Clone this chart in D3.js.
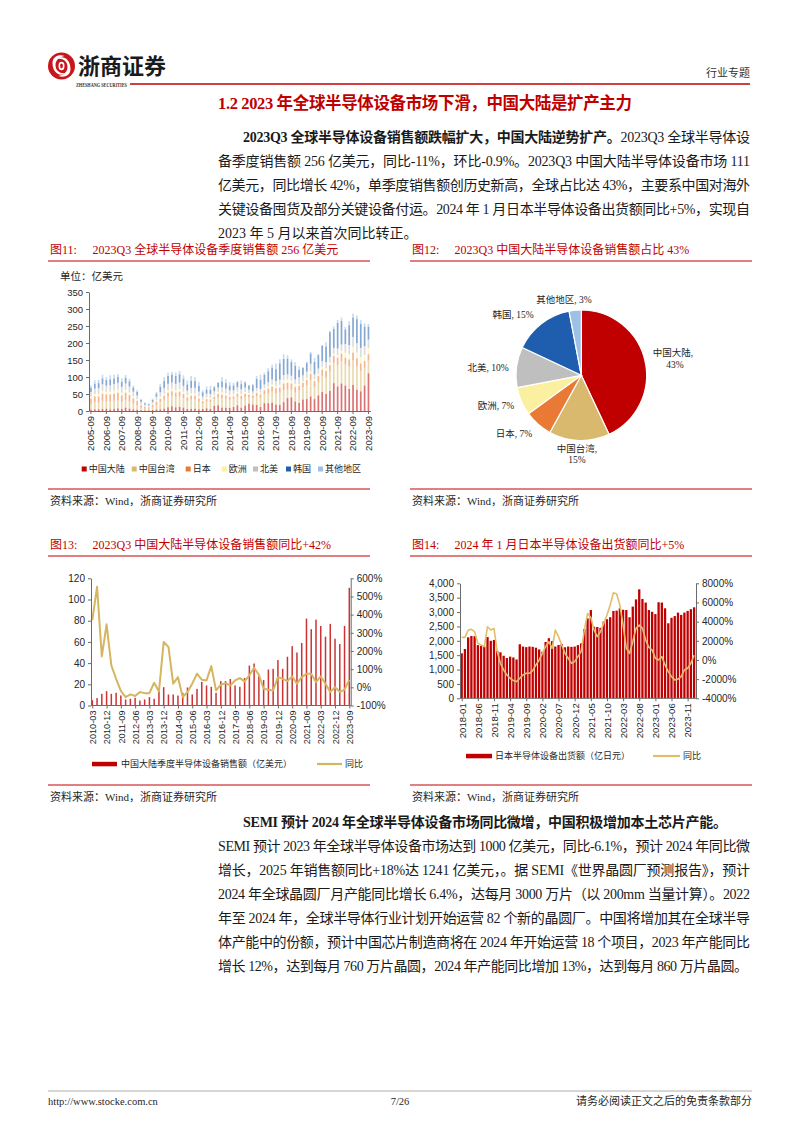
<!DOCTYPE html>
<html><head><meta charset="utf-8">
<script src="https://cdn.jsdelivr.net/npm/d3@7"></script>
<style>body{margin:0;background:#fff}svg{display:block}</style>
</head><body>
<svg id="page" width="802" height="1133"></svg>
<script>
// ================= DATA =================
// Figure 11: global quarterly semiconductor equipment sales by region (亿美元), 2005-09 .. 2023-09
const regions11 = ["中国大陆","中国台湾","日本","欧洲","北美","韩国","其他地区"];
const colors11 = ["#C00000","#D8B96E","#E97A36","#FBF0A0","#BFBFBF","#1F5EAF","#9DC0E5"];
const cn11 = [4,5,5,6,7,5,6,8,6,10,7,5,4,2,2,2,3,5, 5,7,11,14,11,12,10,6,6,7,5,6, 8,6,15,17,10,10,9,12,17,10,16,22, 19,18,12,23,23,25,19,18, 26,38,40,28, 24,34,35,43, 35,46,56,50, 59,82,72,81, 75,65,77,63, 58,75,111];
const tw11 = [17,20,20,24,22,23,24,24,21,23,21,17,14,8,5,5,8,12, 22,27,31,31,31,32,28,24,28,27,23,16, 20,21,20,24,28,26,24,23,25,25,25,18, 19,25,26,27,30,33,34,36, 35,25,23,26, 37,36,41,49, 37,40,47,48, 57,60,64,66, 62,66,72,70, 60,52,38];
const jp11 = [15,18,18,21,20,21,21,22,19,21,19,15,12,7,5,4,7,11, 9,11,12,13,12,13,12,10,11,11,9,7, 7,7,7,9,10,9,9,8,9,9,9,8, 8,10,11,11,13,14,14,15, 20,20,18,17, 13,13,15,17, 16,17,19,20, 19,20,21,22, 20,21,23,22, 22,20,18];
const eu11 = [6,7,7,9,8,8,9,9,8,8,8,6,5,3,2,2,3,4, 6,7,8,8,8,8,7,6,7,7,6,4, 5,5,5,6,7,7,6,6,6,6,6,5, 4,5,5,6,6,7,7,8, 10,10,9,9, 5,5,6,7, 6,7,8,8, 7,7,8,8, 15,16,17,17, 19,18,18];
const na11 = [14,16,17,19,18,19,19,20,17,19,17,14,11,7,5,4,6,10, 13,16,18,18,18,19,17,14,16,16,14,10, 11,11,11,13,15,14,13,12,13,14,13,10, 8,10,11,11,13,14,14,15, 15,15,14,13, 20,17,19,23, 14,15,17,18, 17,17,19,19, 25,26,29,28, 27,26,25];
const kr11 = [12,14,15,17,16,17,17,17,15,17,15,12,10,6,4,3,6,9, 16,20,23,23,23,24,21,18,21,20,17,12, 12,13,12,14,17,16,14,14,15,15,15,12, 18,26,27,28,32,34,35,48, 47,46,40,40, 22,22,25,30, 36,39,45,46, 73,55,75,69, 43,58,57,70, 70,57,38];
const ot11 = [7,10,10,11,9,12,11,9,10,8,8,6,6,3,2,2,3,5, 9,12,10,8,10,10,10,12,14,12,11,6, 9,11,3,2,13,11,10,8,3,11,4,2, 4,9,15,7,9,9,17,12, 14,10,8,11, 10,2,5,5, 12,4,2,12, 4,8,9,10, 7,12,12,11, 12,10,8];
const xLabels11 = ["2005-09","2006-09","2007-09","2008-09","2009-09","2010-09","2011-09","2012-09","2013-09","2014-09","2015-09","2016-09","2017-09","2018-09","2019-09","2020-09","2021-09","2022-09","2023-09"];
const yTicks11 = [0,50,100,150,200,250,300,350];

// Figure 12: 2023Q3 share by region
const pieLabels = ["中国大陆","中国台湾","日本","欧洲","北美","韩国","其他地区"];
const pieValues = [43,15,7,7,10,15,3];
const pieColors = ["#C00000","#D8B96E","#E97A36","#FBF0A0","#BFBFBF","#1F5EAF","#9DC0E5"];

// Figure 13: China mainland quarterly sales (亿美元) and YoY (%), 2010-03 .. 2023-09
const cn13 = [5,7,11,13.5, 11,12,9.5,5.7, 6.3,7.2,4.7,5.7, 7.9,6.3,14.5,17.3, 10.4,10.4,9.4,12, 17,10.4,15.7,22.3, 18.9,17.6,12,23, 23,25,18.9,17.6, 26,37.7,39.6,27.7, 24,34,34.6,42.8, 34.6,46,56,50, 59,82,72,81, 75,65,77,63, 58,75,111];
const yoy13 = [370,553,170,347, 121,47,-20,-54, -39,-48,-26,-32, -32,25,-23,250, 222,20,56,-54, -26,20,75,42, 38,117,-17,14, 23,10,38,51, 33,66,108,69, -8,-13,-17,56, 47,34,60,20, 56,75,75,29, 60,20,-26,1, -26,-13,42];
const xLabels13 = ["2010-03","2010-12","2011-09","2012-06","2013-03","2013-12","2014-09","2015-06","2016-03","2016-12","2017-09","2018-06","2019-03","2019-12","2020-09","2021-06","2022-03","2022-12","2023-09"];
const yTicks13L = [0,20,40,60,80,100,120];
const yTicks13R = [-100,0,100,200,300,400,500,600];

// Figure 14: Japan monthly semiconductor equipment shipments (亿日元) and YoY, 2018-01 .. 2024-01
const jp14 = [1565,1716,2120,2168,2160,1850,1820,1800,2130,2000,2030,1650,
  1600,1480,1400,1450,1420,1350,1880,1800,1780,1800,1790,1760,
  1700,1620,1960,2090,1990,1800,1855,1890,1775,1800,1790,1800,
  1850,1910,2410,2780,3070,2490,2480,2450,2670,2750,2820,3040,
  3050,3130,3080,3070,2820,3190,3440,3790,3455,3330,3070,3010,
  2930,3340,3330,3130,2610,2800,2860,2980,2900,2980,3040,3100,
  3165];
const yoy14 = [2361,2361,3125,3194,2951,1736,1562,1389,3472,3125,3300,868,
  -347,-1042,-1560,-1910,-2150,-2257,-1910,-1560,-1390,-1390,-1110,-520,
  0,694,1389,1910,1215,3125,2430,1562,694,174,-347,-174,
  347,868,3125,4861,4444,3125,2430,2950,3820,4690,5730,7010,
  6875,5730,3650,1215,694,1910,3300,3650,3300,2080,1320,1040,
  174,0,347,-520,-1215,-1736,-2083,-2000,-1736,-1042,-868,-347,
  500];
const xLabels14 = ["2018-01","2018-06","2018-11","2019-04","2019-09","2020-02","2020-07","2020-12","2021-05","2021-10","2022-03","2022-08","2023-01","2023-06","2023-11"];
const yTicks14L = [0,500,1000,1500,2000,2500,3000,3500,4000];
const yTicks14R = [-4000,-2000,0,2000,4000,6000,8000];

// ================= HELPERS =================
const SERIF = "'Liberation Serif','Noto Sans CJK SC',serif";
const SANS = "'Liberation Sans','Noto Sans CJK SC',sans-serif";
const CJK = "'Noto Sans CJK SC','Liberation Sans',sans-serif";
const RED = "#C00000";
const svg = d3.select("#page");
svg.append("rect").attr("width",802).attr("height",1133).attr("fill","#fff");

function periods(startY, startM, stepM, n){
  const out=[]; let y=startY, m=startM;
  for(let i=0;i<n;i++){ out.push(y+"-"+String(m).padStart(2,"0")); m+=stepM; while(m>12){m-=12;y++;} }
  return out;
}
function txt(x,y,s,opt={}){
  const t = svg.append("text").attr("x",x).attr("y",y).text(s)
    .attr("font-family",opt.ff||SERIF).attr("font-size",opt.fs||12)
    .attr("fill",opt.fill||"#1a1a1a").attr("text-anchor",opt.anchor||"start")
    .attr("dy",opt.dy||"0.35em");
  if(opt.fw) t.attr("font-weight",opt.fw);
  if(opt.w) t.attr("textLength",opt.w).attr("lengthAdjust",opt.la||"spacing");
  return t;
}
function line(g,x1,y1,x2,y2,c,w){ g.append("line").attr("x1",x1).attr("y1",y1).attr("x2",x2).attr("y2",y2).attr("stroke",c).attr("stroke-width",w); }
function styleAxis(a, fs){
  a.attr("font-family",SANS).attr("font-size",fs);
  a.select(".domain").attr("stroke","#6b6b6b");
  a.selectAll(".tick line").attr("stroke","#6b6b6b");
  a.selectAll(".tick text").attr("fill","#262626");
}
function rotateX(a){
  a.selectAll(".tick text").attr("transform","rotate(-90)").attr("text-anchor","end").attr("x",-5).attr("y",0).attr("dy","0.35em");
}

// ================= HEADER =================
const logo = svg.append("g").attr("transform","translate(61.5,66)");
logo.append("circle").attr("r",13.5).attr("fill","#C8161D");
logo.append("path").attr("d","M-9,-3 C-9,-10 -2,-12 3,-10 C-2,-9 -6,-6 -6,-1 C-6,5 -1,8 4,7 C0,11 -9,8 -9,-3 Z").attr("fill","#fff");
logo.append("path").attr("d","M9,3 C9,10 2,12 -3,10 C2,9 6,6 6,1 C6,-5 1,-8 -4,-7 C0,-11 9,-8 9,3 Z").attr("fill","#fff");
logo.append("ellipse").attr("rx",3).attr("ry",4.2).attr("fill","#fff");
logo.append("ellipse").attr("rx",1.4).attr("ry",2.4).attr("fill","#C8161D");
txt(78,66,"浙商证券",{ff:CJK,fs:22,fw:"bold",fill:"#1a1a1a"});
txt(76,85,"ZHESHANG SECURITIES",{ff:SERIF,fs:5.2,fw:"bold",fill:"#333",w:51,la:"spacingAndGlyphs"});
line(svg,130,84,750,84,RED,1.6);
txt(750,73,"行业专题",{ff:CJK,fs:11,anchor:"end",fill:"#333"});

// Title
txt(218,103,"1.2 2023 年全球半导体设备市场下滑，中国大陆是扩产主力",{ff:SERIF,fs:16.5,fw:"bold",fill:RED,w:414});

// Paragraph helper
function para(lines, y0){
  lines.forEach((L,i)=>{
    const t = svg.append("text").attr("x",L.x).attr("y",y0+i*24).attr("dy","0.35em")
      .attr("font-family",SERIF).attr("font-size",14).attr("fill","#1a1a1a");
    L.segs.forEach(s=>{ const ts=t.append("tspan").text(s[0]); if(s[1]) ts.attr("font-weight","bold"); });
    if(L.w) t.attr("textLength",L.w).attr("lengthAdjust","spacing");
  });
}
para([
  {x:243,w:507,segs:[["2023Q3 全球半导体设备销售额跌幅扩大，中国大陆逆势扩产。",1],["2023Q3 全球半导体设",0]]},
  {x:218,w:532,segs:[["备季度销售额 256 亿美元，同比-11%，环比-0.9%。2023Q3 中国大陆半导体设备市场 111",0]]},
  {x:218,w:532,segs:[["亿美元，同比增长 42%，单季度销售额创历史新高，全球占比达 43%，主要系中国对海外",0]]},
  {x:218,w:532,segs:[["关键设备囤货及部分关键设备付运。2024 年 1 月日本半导体设备出货额同比+5%，实现自",0]]},
  {x:218,w:0,segs:[["2023 年 5 月以来首次同比转正。",0]]}
],137);

// Figure titles
function figTitle(x, y, num, title, lineEnd){
  txt(x,y,num,{ff:SERIF,fs:12,fill:RED});
  txt(x+42.5,y,title,{ff:SERIF,fs:12,fill:RED});
  line(svg,x-2,y+11,lineEnd,y+11,RED,1.2);
}
figTitle(50,250,"图11:","2023Q3 全球半导体设备季度销售额 256 亿美元",370);
figTitle(412,250,"图12:","2023Q3 中国大陆半导体设备销售额占比 43%",752);
figTitle(50,545,"图13:","2023Q3 中国大陆半导体设备销售额同比+42%",370);
figTitle(412,545,"图14:","2024 年 1 月日本半导体设备出货额同比+5%",752);

function source(x, y, lineEnd){
  line(svg,x-2,y-12,lineEnd,y-12,RED,1);
  txt(x,y,"资料来源：Wind，浙商证券研究所",{ff:SERIF,fs:11,fill:"#262626"});
}
source(50,501,370); source(412,501,752);
source(50,797,370); source(412,797,752);

// ================= FIGURE 11 =================
const g11 = svg.append("g");
txt(60,276,"单位：亿美元",{ff:CJK,fs:10.5,fill:"#262626"});
const quarters11 = periods(2005,9,3,cn11.length);
const x11 = d3.scaleBand().domain(quarters11).range([89,370.4]);
const y11 = d3.scaleLinear().domain([0,350]).range([411,292]);
const rows11 = quarters11.map((q,i)=>({q,"中国大陆":cn11[i],"中国台湾":tw11[i],"日本":jp11[i],"欧洲":eu11[i],"北美":na11[i],"韩国":kr11[i],"其他地区":ot11[i]}));
const stacked = d3.stack().keys(regions11)(rows11);
g11.selectAll("g.layer").data(stacked).join("g").attr("class","layer")
  .attr("fill",(d,i)=>colors11[i]).attr("fill-opacity",0.55)
  .selectAll("rect").data(d=>d).join("rect")
  .attr("x",d=>x11(d.data.q)+x11.bandwidth()/2-0.85).attr("width",1.7)
  .attr("y",d=>y11(d[1])).attr("height",d=>Math.max(0,y11(d[0])-y11(d[1])));
const a11y = g11.append("g").attr("transform","translate(89,0)")
  .call(d3.axisLeft(y11).tickValues(yTicks11).tickSize(3).tickSizeOuter(0));
styleAxis(a11y,9.5);
const a11x = g11.append("g").attr("transform","translate(0,411)")
  .call(d3.axisBottom(x11).tickValues(xLabels11).tickSize(3).tickSizeOuter(0));
styleAxis(a11x,9.5); rotateX(a11x);
// legend
const lg11x = [81.7,131.7,185.7,221.7,253,286,318];
regions11.forEach((r,i)=>{
  g11.append("rect").attr("x",lg11x[i]).attr("y",466.5).attr("width",5).attr("height",5).attr("fill",colors11[i]);
  g11.append("text").attr("x",lg11x[i]+7).attr("y",469).attr("dy","0.35em").text(r)
    .attr("font-family",CJK).attr("font-size",9).attr("fill","#262626");
});

// ================= FIGURE 12 (pie) =================
const g12 = svg.append("g").attr("transform","translate(581.3,375.3)");
const pie = d3.pie().sort(null).value(d=>d)(pieValues);
const arc = d3.arc().innerRadius(0).outerRadius(65.3);
g12.selectAll("path").data(pie).join("path").attr("d",arc)
  .attr("fill",(d,i)=>pieColors[i]).attr("stroke","#fff").attr("stroke-width",1.2);
const pieLabelPos = [[673,353,675,365],[577,449,577,460],[514,434],[496,406],[488,368],[513,315],[564,300]];
pieLabels.forEach((l,i)=>{
  const p = pieLabelPos[i];
  if(p.length===4){
    txt(p[0],p[1],l+",",{ff:SERIF,fs:9.5,anchor:"middle",fill:"#262626"});
    txt(p[2],p[3],pieValues[i]+"%",{ff:SERIF,fs:9.5,anchor:"middle",fill:"#262626"});
  } else {
    txt(p[0],p[1],l+", "+pieValues[i]+"%",{ff:SERIF,fs:9.5,anchor:"middle",fill:"#262626"});
  }
});

// ================= FIGURE 13 =================
const g13 = svg.append("g");
const quarters13 = periods(2010,3,3,cn13.length);
const x13 = d3.scalePoint().domain(quarters13).range([92.3,349.3]);
const y13L = d3.scaleLinear().domain([0,120]).range([705.5,578.3]);
const y13R = d3.scaleLinear().domain([-100,600]).range([705.5,578.3]);
g13.selectAll("rect.bar").data(cn13).join("rect").attr("class","bar")
  .attr("x",(d,i)=>x13(quarters13[i])-0.75).attr("width",1.5)
  .attr("y",d=>y13L(d)).attr("height",d=>y13L(0)-y13L(d))
  .attr("fill","#C00000").attr("fill-opacity",0.8);
g13.append("path").datum(yoy13)
  .attr("d",d3.line().x((d,i)=>x13(quarters13[i])).y(d=>y13R(d)))
  .attr("fill","none").attr("stroke","#D4B560").attr("stroke-width",2).attr("stroke-linejoin","round");
const a13l = g13.append("g").attr("transform","translate(91,0)")
  .call(d3.axisLeft(y13L).tickValues(yTicks13L).tickSize(3).tickSizeOuter(0));
styleAxis(a13l,10);
const a13r = g13.append("g").attr("transform","translate(350.7,0)")
  .call(d3.axisRight(y13R).tickValues(yTicks13R).tickSize(3).tickSizeOuter(0).tickFormat(d=>d+"%"));
styleAxis(a13r,10);
const a13x = g13.append("g").attr("transform","translate(0,705.5)")
  .call(d3.axisBottom(x13).tickValues(xLabels13).tickSize(3).tickSizeOuter(0));
styleAxis(a13x,9.2); rotateX(a13x);
a13x.select(".domain").attr("d","M91,0H350.7");
// legend
g13.append("rect").attr("x",92).attr("y",761.8).attr("width",25).attr("height",4.5).attr("fill","#C00000");
g13.append("text").attr("x",121).attr("y",764).attr("dy","0.35em").text("中国大陆季度半导体设备销售额（亿美元）")
  .attr("font-family",CJK).attr("font-size",9).attr("fill","#262626");
line(g13,317,764,342,764,"#D4B560",2.2);
g13.append("text").attr("x",345).attr("y",764).attr("dy","0.35em").text("同比")
  .attr("font-family",CJK).attr("font-size",9).attr("fill","#262626");

// ================= FIGURE 14 =================
const g14 = svg.append("g");
const months14 = periods(2018,1,1,jp14.length);
const x14 = d3.scalePoint().domain(months14).range([461.7,694.1]);
const y14L = d3.scaleLinear().domain([0,4000]).range([698.3,583.3]);
const y14R = d3.scaleLinear().domain([-4000,8000]).range([698.3,583.3]);
g14.selectAll("rect.bar").data(jp14).join("rect").attr("class","bar")
  .attr("x",(d,i)=>x14(months14[i])-1.15).attr("width",2.3)
  .attr("y",d=>y14L(d)).attr("height",d=>y14L(0)-y14L(d))
  .attr("fill","#C00000");
g14.append("path").datum(yoy14)
  .attr("d",d3.line().x((d,i)=>x14(months14[i])).y(d=>y14R(d)))
  .attr("fill","none").attr("stroke","#E2BE6A").attr("stroke-width",1.6).attr("stroke-linejoin","round");
const a14l = g14.append("g").attr("transform","translate(460,0)")
  .call(d3.axisLeft(y14L).tickValues(yTicks14L).tickSize(3).tickSizeOuter(0).tickFormat(d3.format(",")));
styleAxis(a14l,10);
const a14r = g14.append("g").attr("transform","translate(696,0)")
  .call(d3.axisRight(y14R).tickValues(yTicks14R).tickSize(3).tickSizeOuter(0).tickFormat(d=>d+"%"));
styleAxis(a14r,10);
const a14x = g14.append("g").attr("transform","translate(0,698.3)")
  .call(d3.axisBottom(x14).tickValues(xLabels14).tickSize(3).tickSizeOuter(0));
styleAxis(a14x,9.5); rotateX(a14x);
a14x.select(".domain").attr("d","M460,0H696");
// legend
g14.append("rect").attr("x",466).attr("y",753.8).attr("width",26).attr("height",4.5).attr("fill","#C00000");
g14.append("text").attr("x",495).attr("y",756).attr("dy","0.35em").text("日本半导体设备出货额（亿日元）")
  .attr("font-family",CJK).attr("font-size",9).attr("fill","#262626");
line(g14,653,756,680,756,"#E2BE6A",2.2);
g14.append("text").attr("x",683).attr("y",756).attr("dy","0.35em").text("同比")
  .attr("font-family",CJK).attr("font-size",9).attr("fill","#262626");

// ================= PARAGRAPH 2 =================
para([
  {x:243,w:484,segs:[["SEMI 预计 2024 年全球半导体设备市场同比微增，中国积极增加本土芯片产能。",1]]},
  {x:218,w:532,segs:[["SEMI 预计 2023 年全球半导体设备市场达到 1000 亿美元，同比-6.1%，预计 2024 年同比微",0]]},
  {x:218,w:532,segs:[["增长，2025 年销售额同比+18%达 1241 亿美元，。据 SEMI《世界晶圆厂预测报告》，预计",0]]},
  {x:218,w:532,segs:[["2024 年全球晶圆厂月产能同比增长 6.4%，达每月 3000 万片（以 200mm 当量计算）。2022",0]]},
  {x:218,w:532,segs:[["年至 2024 年，全球半导体行业计划开始运营 82 个新的晶圆厂。中国将增加其在全球半导",0]]},
  {x:218,w:532,segs:[["体产能中的份额，预计中国芯片制造商将在 2024 年开始运营 18 个项目，2023 年产能同比",0]]},
  {x:218,w:530,segs:[["增长 12%，达到每月 760 万片晶圆，2024 年产能同比增加 13%，达到每月 860 万片晶圆。",0]]}
],822);

// ================= FOOTER =================
line(svg,48,1091,752,1091,"#9a9a9a",0.8);
txt(48,1101,"http://www.stocke.com.cn",{ff:SERIF,fs:10.5,fill:"#262626"});
txt(400,1101,"7/26",{ff:SERIF,fs:10.5,anchor:"middle",fill:"#262626"});
txt(752,1101,"请务必阅读正文之后的免责条款部分",{ff:CJK,fs:11,anchor:"end",fill:"#262626"});
</script>
</body></html>
